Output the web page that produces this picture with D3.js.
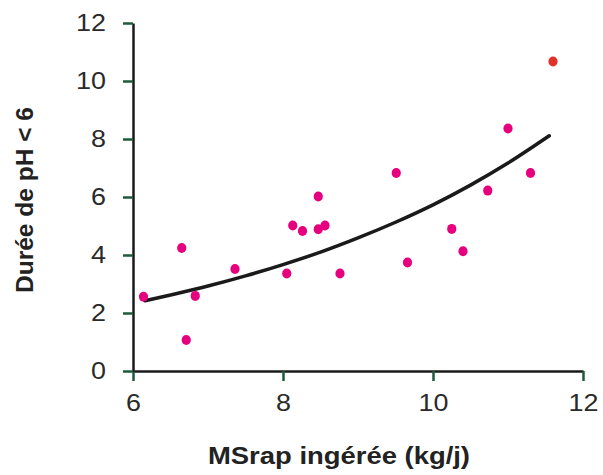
<!DOCTYPE html>
<html>
<head>
<meta charset="utf-8">
<script src="https://cdn.jsdelivr.net/npm/d3@7"></script>
<style>
  body { margin: 0; background: #fff; }
  text { font-family: "Liberation Sans", Arial, sans-serif; }
</style>
</head>
<body>
<div id="container"></div>
<script>
// observed points (MSrap ingérée, durée pH < 6)
const msrap = [6.14, 6.65, 6.71, 6.83, 7.36, 8.05, 8.13, 8.26, 8.47, 8.47, 8.56, 8.76, 9.51, 9.66, 10.25, 10.40, 10.73, 11.00, 11.30];
const duree = [2.56, 4.24, 1.07, 2.59, 3.52, 3.36, 5.02, 4.83, 6.02, 4.89, 5.02, 3.36, 6.83, 3.74, 4.90, 4.13, 6.22, 8.36, 6.83];
// the one red point
const outlierX = [11.60];
const outlierY = [10.67];
// trend curve
const trendX = [6.16, 6.5, 7, 7.5, 8, 8.5, 9, 9.5, 10, 10.5, 11, 11.55];
const trendY = [2.42, 2.62, 2.93, 3.28, 3.67, 4.10, 4.59, 5.13, 5.73, 6.41, 7.17, 8.11];
const xTicks = [6, 8, 10, 12];
const yTicks = [0, 2, 4, 6, 8, 10, 12];

const width = 603, height = 475;
const marginLeft = 133, marginTop = 23, marginBottom = 104;

const x = d3.scaleLinear().domain([6, 12]).range([marginLeft, 583]);
const y = d3.scaleLinear().domain([0, 12]).range([height - marginBottom, marginTop]);

const svg = d3.select("#container").append("svg")
    .attr("width", width)
    .attr("height", height)
    .attr("viewBox", [0, 0, width, height]);

const tickColor = "#1d5a3c";
const stretch = 1.17; // the original lettering is a bit wider than Arial

function widen(sel) {
  sel.each(function() {
    const w = this.getComputedTextLength();
    d3.select(this).attr("textLength", w * stretch).attr("lengthAdjust", "spacingAndGlyphs");
  });
}

// x axis
svg.append("g")
    .attr("transform", `translate(0,${y(0)})`)
    .call(d3.axisBottom(x).tickValues(xTicks).tickFormat(d3.format("d")).tickSize(10).tickPadding(14).tickSizeOuter(0))
    .call(g => g.select(".domain").attr("stroke", "#1a1a1a").attr("stroke-width", 2.5))
    .call(g => g.selectAll(".tick line").attr("stroke", tickColor).attr("stroke-width", 2.5))
    .call(g => g.selectAll(".tick text").attr("fill", "#2a2a2a").attr("font-size", 23)
        .attr("font-family", "'Liberation Sans', Arial, sans-serif").call(widen));

// y axis
svg.append("g")
    .attr("transform", `translate(${x(6)},0)`)
    .call(d3.axisLeft(y).tickValues(yTicks).tickFormat(d3.format("d")).tickSize(10).tickPadding(17).tickSizeOuter(0))
    .call(g => g.select(".domain").attr("stroke", "#1a1a1a").attr("stroke-width", 2.5))
    .call(g => g.selectAll(".tick line").attr("stroke", tickColor).attr("stroke-width", 2.5))
    .call(g => g.selectAll(".tick text").attr("fill", "#2a2a2a").attr("font-size", 23)
        .attr("font-family", "'Liberation Sans', Arial, sans-serif").call(widen));

// axis titles
svg.append("text")
    .attr("x", 339)
    .attr("y", 464)
    .attr("text-anchor", "middle")
    .attr("font-weight", "bold")
    .attr("font-size", 24)
    .attr("fill", "#222")
    .text("MSrap ingérée (kg/j)")
    .attr("textLength", 262)
    .attr("lengthAdjust", "spacingAndGlyphs");

svg.append("text")
    .attr("transform", `translate(33,200) rotate(-90)`)
    .attr("text-anchor", "middle")
    .attr("font-weight", "bold")
    .attr("font-size", 24)
    .attr("fill", "#222")
    .text("Durée de pH < 6")
    .attr("textLength", 186)
    .attr("lengthAdjust", "spacingAndGlyphs");

// trend curve
const trend = trendX.map((v, i) => [v, trendY[i]]);
svg.append("path")
    .datum(trend)
    .attr("fill", "none")
    .attr("stroke", "#1a1a1a")
    .attr("stroke-width", 3.5)
    .attr("stroke-linecap", "round")
    .attr("d", d3.line().x(d => x(d[0])).y(d => y(d[1])).curve(d3.curveMonotoneX));

// points
const pts = msrap.map((v, i) => [v, duree[i]]);
svg.append("g")
    .attr("fill", "#e6007e")
    .selectAll("ellipse")
    .data(pts)
    .join("ellipse")
    .attr("cx", d => x(d[0]))
    .attr("cy", d => y(d[1]))
    .attr("rx", 4.6)
    .attr("ry", 5);

svg.append("g")
    .attr("fill", "#e2302a")
    .selectAll("ellipse")
    .data(outlierX.map((v, i) => [v, outlierY[i]]))
    .join("ellipse")
    .attr("cx", d => x(d[0]))
    .attr("cy", d => y(d[1]))
    .attr("rx", 4.6)
    .attr("ry", 5);
</script>
</body>
</html>
